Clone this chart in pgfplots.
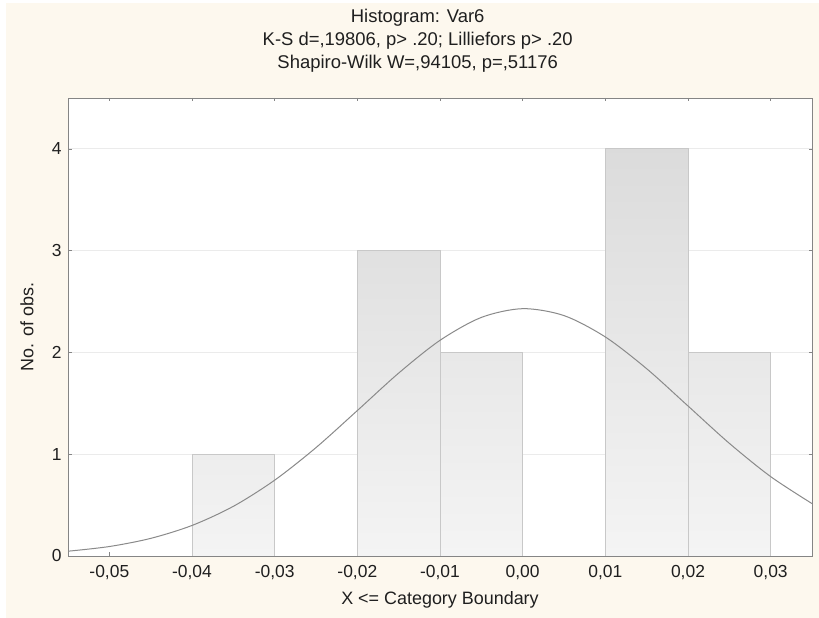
\documentclass[border=0pt]{standalone}
\usepackage{fontspec}
\setmainfont{Liberation Sans}
\usepackage{pgfplots}
\pgfplotsset{compat=1.18}
\definecolor{cream}{HTML}{FDF8EE}
\definecolor{barline}{HTML}{C8C8C8}
\definecolor{curvecol}{HTML}{8A8A8A}
\definecolor{gridcol}{HTML}{EBEBEB}
\definecolor{axiscol}{HTML}{858585}
\definecolor{barbot}{HTML}{F4F4F4}
\begin{document}
\begin{tikzpicture}[x=1bp,y=1bp]
\fill[white] (0,0) rectangle (819,618);
\fill[cream] (6,0) rectangle (819,615);
\begin{axis}[
  at={(68bp,62bp)}, anchor=south west,
  scale only axis, width=744bp, height=458bp,
  xmin=-0.055, xmax=0.035, ymin=0, ymax=4.5,
  axis background/.style={fill=white},
  axis line style={axiscol},
  tick style={axiscol, line width=0.6pt},
  tick align=inside, major tick length=3.5bp,
  xtick={-0.05,-0.04,-0.03,-0.02,-0.01,0,0.01,0.02,0.03},
  xticklabels={{-0,05},{-0,04},{-0,03},{-0,02},{-0,01},{0,00},{0,01},{0,02},{0,03}},
  ytick={0,1,2,3,4},
  yticklabels={0,1,2,3,4},
  scaled x ticks=false,
  ymajorgrids, grid style={gridcol, line width=0.8pt},
  ticklabel style={font=\fontsize{17.5}{20}\selectfont, text=black!88},
  xticklabel style={yshift=-6bp},
  yticklabel style={xshift=-3bp},
  label style={font=\fontsize{18}{21}\selectfont, text=black!88},
  xlabel={X <= Category Boundary},
  ylabel={No. of obs.},
  xlabel style={at={(axis description cs:0.5,-0.096)}, anchor=center},
  ylabel style={at={(axis description cs:-0.055,0.5)}, anchor=center, rotate=0},
  title={Histogram: Var6\\K-S d=,19806, p> .20; Lilliefors p> .20\\Shapiro-Wilk W=,94105, p=,51176},
  title style={at={(axis description cs:0.47,1)}, anchor=center, yshift=51bp, align=center,
    font=\fontsize{18.5}{23}\selectfont, text=black!88},
  clip=true,
]
\addplot[draw=barline, line width=0.9pt, top color=black!7, bottom color=barbot]
  coordinates {(-0.04,0) (-0.04,1) (-0.03,1) (-0.03,0)} -- cycle;
\addplot[draw=barline, line width=0.9pt, top color=black!12, bottom color=barbot]
  coordinates {(-0.02,0) (-0.02,3) (-0.01,3) (-0.01,0)} -- cycle;
\addplot[draw=barline, line width=0.9pt, top color=black!9, bottom color=barbot]
  coordinates {(-0.01,0) (-0.01,2) (0,2) (0,0)} -- cycle;
\addplot[draw=barline, line width=0.9pt, top color=black!14, bottom color=barbot]
  coordinates {(0.01,0) (0.01,4) (0.02,4) (0.02,0)} -- cycle;
\addplot[draw=barline, line width=0.9pt, top color=black!9, bottom color=barbot]
  coordinates {(0.02,0) (0.02,2) (0.03,2) (0.03,0)} -- cycle;
\addplot[draw=axiscol!80, line width=0.9pt] coordinates {(-0.05,0) (-0.04,0)};
\addplot[draw=axiscol!80, line width=0.9pt] coordinates {(-0.03,0) (-0.02,0)};
\addplot[draw=axiscol!80, line width=0.9pt] coordinates {(0,0) (0.01,0)};
\addplot[curvecol, line width=1bp, smooth] coordinates {
(-0.055,0.047) (-0.050,0.093) (-0.045,0.173) (-0.040,0.300) (-0.035,0.488)
(-0.030,0.745) (-0.025,1.065) (-0.020,1.429) (-0.015,1.797) (-0.010,2.119)
(-0.005,2.344) (0.000,2.430) (0.005,2.362) (0.010,2.152) (0.015,1.840)
(0.020,1.474) (0.025,1.107) (0.030,0.780) (0.035,0.515)};
\end{axis}
\end{tikzpicture}
\end{document}
